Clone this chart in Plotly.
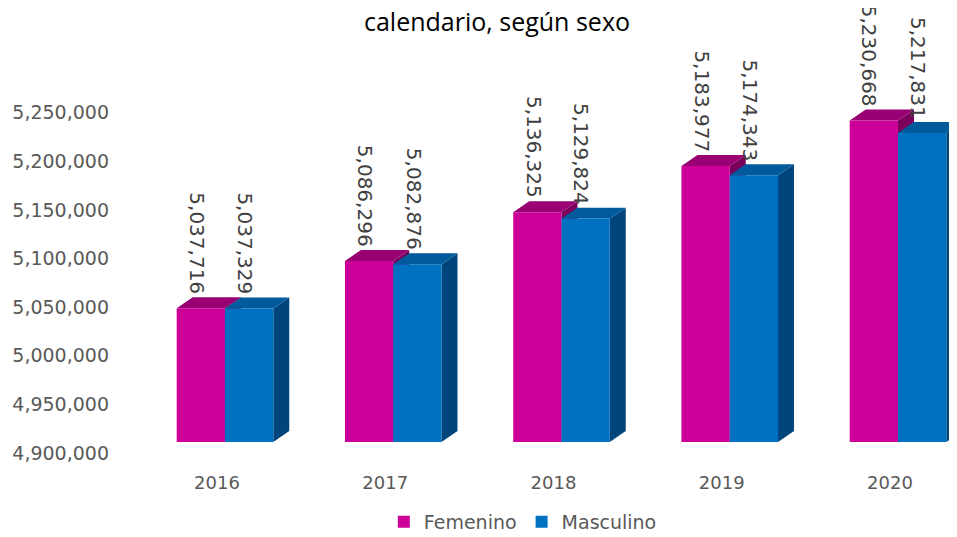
import plotly.graph_objects as go

years = ["2016", "2017", "2018", "2019", "2020"]
femenino = [5037716, 5086296, 5136325, 5183977, 5230668]
masculino = [5037329, 5082876, 5129824, 5174343, 5217831]
tick_vals = [4900000, 4950000, 5000000, 5050000, 5100000, 5150000, 5200000, 5250000]

BASE = 4900000
W = 0.287      # bar width (category units)
DX = 0.095     # 3D depth in x
DY = 11300     # 3D depth in y

series = [
    ("Femenino", femenino, -W, "#CC0099", "#990073", "#7A005C"),
    ("Masculino", masculino, 0.0, "#0070C0", "#005A9C", "#00467D"),
]

FONT = "DejaVu Sans, Verdana, sans-serif"

# page body has an 8px default margin: figure is 8px smaller, positions shifted
FW, FH = 949, 529

fig = go.Figure()
annotations = []

for name, vals, off, c_front, c_top, c_side in series:
    sx, sy, tx, ty, fx, fy = [], [], [], [], [], []
    for i, v in enumerate(vals):
        xl = i + off
        xr = xl + W
        sx += [xr, xr + DX, xr + DX, xr, xr, None]
        sy += [BASE, BASE + DY, v + DY, v, BASE, None]
        tx += [xl, xr, xr + DX, xl + DX, xl, None]
        ty += [v, v, v + DY, v + DY, v, None]
        fx += [xl, xr, xr, xl, xl, None]
        fy += [BASE, BASE, v, v, BASE, None]
        annotations.append(dict(
            x=xl + W / 2, y=v + DY, xref="x", yref="y",
            text=f"{v:,}", textangle=90, showarrow=False,
            xanchor="center", yanchor="bottom", yshift=1, xshift=-4,
            font=dict(family=FONT, size=20, color="#404040"),
        ))
    for xs, ys, col in [(sx, sy, c_side), (tx, ty, c_top), (fx, fy, c_front)]:
        fig.add_trace(go.Scatter(
            x=xs, y=ys, mode="lines", fill="toself", fillcolor=col,
            line=dict(width=0, color=col), showlegend=False, hoverinfo="skip",
        ))

for name, vals, off, c_front, c_top, c_side in series:
    fig.add_trace(go.Scatter(
        x=[None], y=[None], mode="markers", name=name,
        marker=dict(symbol="square", size=12, color=c_front),
    ))

fig.update_layout(
    width=FW, height=FH,
    margin=dict(l=122, r=0, t=52, b=95),
    plot_bgcolor="white", paper_bgcolor="white",
    title=dict(text="calendario, según sexo", x=489 / FW, xanchor="center",
               y=1 - 14 / FH, yanchor="middle",
               font=dict(family="Open Sans, sans-serif", size=25, color="#000000")),
    xaxis=dict(range=[-0.5646, 4.3507], tickvals=list(range(len(years))), ticktext=years,
               showgrid=False, zeroline=False, showline=False, ticks="",
               ticklabelshift=-8, ticklabelstandoff=28,
               tickfont=dict(family=FONT, size=18, color="#595959")),
    yaxis=dict(range=[BASE, BASE + 382 / 0.972 * 1000], tickvals=tick_vals,
               tickformat=",d", showgrid=False, zeroline=False, showline=False, ticks="",
               ticklabelshift=11, ticklabelstandoff=20,
               tickfont=dict(family=FONT, size=19, color="#595959")),
    legend=dict(orientation="h", x=0.475, xanchor="center", yref="container",
                y=1 - 514 / FH, yanchor="middle",
                font=dict(family=FONT, size=19, color="#595959")),
    annotations=annotations,
)

fig.write_html("out.html")
